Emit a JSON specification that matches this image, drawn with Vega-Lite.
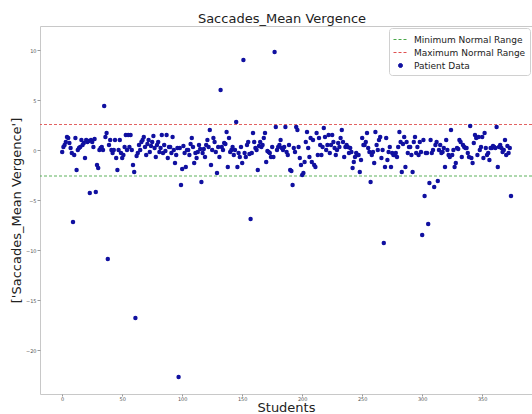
{
  "$schema": "https://vega.github.io/schema/vega-lite/v6.json",
  "autosize": {"type": "none"},
  "padding": {"left": 40, "top": 26, "right": 0, "bottom": 20},
  "width": 492,
  "height": 368,
  "background": "white",
  "title": {"text": "Saccades_Mean Vergence", "fontSize": 13, "fontWeight": "normal", "font": "DejaVu Sans", "baseline": "alphabetic", "offset": 5, "color": "#222222", "frame": "group", "dx": -4, "dy": 15},
  "config": {
    "font": "DejaVu Sans",
    "view": {"stroke": "#c8c8c8", "strokeWidth": 1},
    "axis": {"grid": false, "domain": false, "labelFontSize": 5, "labelColor": "#555555", "tickColor": "#999999", "tickSize": 3, "labelPadding": 1, "titleFontSize": 13, "titleFontWeight": "normal", "titleColor": "#222222", "titleFont": "DejaVu Sans"},
    "legend": {
      "orient": "top-right",
      "offset": 2,
      "padding": 4,
      "fillColor": "rgba(255,255,255,0.85)",
      "strokeColor": "#d0d0d0",
      "cornerRadius": 3,
      "labelFontSize": 9,
      "labelFont": "DejaVu Sans",
      "labelColor": "#222222",
      "labelOffset": 6,
      "rowPadding": 0,
      "symbolSize": 64
    }
  },
  "datasets": {
    "ranges": [
      {"series": "Minimum Normal Range", "limit": -2.6},
      {"series": "Maximum Normal Range", "limit": 2.55}
    ],
    "patients": [
      {"student":0,"vergence":-0.2},{"student":1,"vergence":0.3},{"student":2,"vergence":0.5},{"student":3,"vergence":0.8},{"student":4,"vergence":1.3},{"student":5,"vergence":1.2},{"student":6,"vergence":0.7},{"student":7,"vergence":0.2},{"student":8,"vergence":-0.3},{"student":9,"vergence":-7.2},
      {"student":10,"vergence":-0.5},{"student":11,"vergence":1.2},{"student":12,"vergence":-2.0},{"student":13,"vergence":0.0},{"student":14,"vergence":0.2},{"student":15,"vergence":0.3},{"student":16,"vergence":1.0},{"student":17,"vergence":0.5},{"student":18,"vergence":0.7},{"student":19,"vergence":-0.8},
      {"student":20,"vergence":1.0},{"student":21,"vergence":0.8},{"student":22,"vergence":0.9},{"student":23,"vergence":-4.3},{"student":24,"vergence":1.0},{"student":25,"vergence":0.8},{"student":26,"vergence":0.3},{"student":27,"vergence":1.1},{"student":28,"vergence":-4.2},{"student":29,"vergence":-1.5},
      {"student":30,"vergence":-1.8},{"student":31,"vergence":0.0},{"student":32,"vergence":0.2},{"student":33,"vergence":0.3},{"student":34,"vergence":0.0},{"student":35,"vergence":4.4},{"student":36,"vergence":1.3},{"student":37,"vergence":1.7},{"student":38,"vergence":-10.9},{"student":39,"vergence":0.5},
      {"student":40,"vergence":1.0},{"student":41,"vergence":0.0},{"student":42,"vergence":-0.3},{"student":43,"vergence":0.0},{"student":44,"vergence":1.0},{"student":45,"vergence":-0.8},{"student":46,"vergence":-2.0},{"student":47,"vergence":0.0},{"student":48,"vergence":1.0},{"student":49,"vergence":-0.3},
      {"student":50,"vergence":-0.8},{"student":51,"vergence":-0.5},{"student":52,"vergence":0.3},{"student":53,"vergence":1.5},{"student":54,"vergence":0.0},{"student":55,"vergence":1.5},{"student":56,"vergence":0.3},{"student":57,"vergence":1.5},{"student":58,"vergence":0.0},{"student":59,"vergence":-1.5},
      {"student":60,"vergence":-2.2},{"student":61,"vergence":-16.8},{"student":62,"vergence":-0.6},{"student":63,"vergence":-0.3},{"student":64,"vergence":0.5},{"student":65,"vergence":0.0},{"student":66,"vergence":0.8},{"student":67,"vergence":1.0},{"student":68,"vergence":1.3},{"student":69,"vergence":0.3},
      {"student":70,"vergence":-0.5},{"student":71,"vergence":0.6},{"student":72,"vergence":1.0},{"student":73,"vergence":-0.2},{"student":74,"vergence":0.4},{"student":75,"vergence":0.8},{"student":76,"vergence":1.4},{"student":77,"vergence":0.2},{"student":78,"vergence":-0.7},{"student":79,"vergence":0.5},
      {"student":80,"vergence":0.8},{"student":81,"vergence":-0.2},{"student":82,"vergence":0.2},{"student":83,"vergence":1.5},{"student":84,"vergence":-0.3},{"student":85,"vergence":0.5},{"student":86,"vergence":-0.1},{"student":87,"vergence":1.5},{"student":88,"vergence":-0.8},{"student":89,"vergence":0.3},
      {"student":90,"vergence":0.3},{"student":91,"vergence":-0.3},{"student":92,"vergence":1.3},{"student":93,"vergence":0.0},{"student":94,"vergence":-1.3},{"student":95,"vergence":-0.5},{"student":96,"vergence":0.2},{"student":97,"vergence":-22.7},{"student":98,"vergence":0.2},{"student":99,"vergence":-3.5},
      {"student":100,"vergence":-1.9},{"student":101,"vergence":0.4},{"student":102,"vergence":-0.3},{"student":103,"vergence":-1.7},{"student":104,"vergence":0.0},{"student":105,"vergence":0.0},{"student":106,"vergence":-0.5},{"student":107,"vergence":0.6},{"student":108,"vergence":1.2},{"student":109,"vergence":0.3},
      {"student":110,"vergence":-1.3},{"student":111,"vergence":-0.3},{"student":112,"vergence":-0.8},{"student":113,"vergence":-0.2},{"student":114,"vergence":0.5},{"student":115,"vergence":0.1},{"student":116,"vergence":-3.2},{"student":117,"vergence":-0.3},{"student":118,"vergence":0.1},{"student":119,"vergence":-0.7},
      {"student":120,"vergence":0.5},{"student":121,"vergence":1.0},{"student":122,"vergence":0.3},{"student":123,"vergence":2.0},{"student":124,"vergence":-1.5},{"student":125,"vergence":0.0},{"student":126,"vergence":1.2},{"student":127,"vergence":0.8},{"student":128,"vergence":-0.2},{"student":129,"vergence":-2.3},
      {"student":130,"vergence":0.3},{"student":131,"vergence":-0.7},{"student":132,"vergence":6.0},{"student":133,"vergence":0.3},{"student":134,"vergence":0.0},{"student":135,"vergence":0.7},{"student":136,"vergence":0.6},{"student":137,"vergence":1.8},{"student":138,"vergence":-1.7},{"student":139,"vergence":1.2},
      {"student":140,"vergence":-0.2},{"student":141,"vergence":0.0},{"student":142,"vergence":0.3},{"student":143,"vergence":-0.5},{"student":144,"vergence":0.0},{"student":145,"vergence":2.8},{"student":146,"vergence":-1.7},{"student":147,"vergence":-0.3},{"student":148,"vergence":-0.7},{"student":149,"vergence":0.3},
      {"student":150,"vergence":-1.3},{"student":151,"vergence":9.0},{"student":152,"vergence":-0.3},{"student":153,"vergence":-0.7},{"student":154,"vergence":0.5},{"student":155,"vergence":0.8},{"student":156,"vergence":-0.4},{"student":157,"vergence":-6.9},{"student":158,"vergence":-0.3},{"student":159,"vergence":1.7},
      {"student":160,"vergence":0.8},{"student":161,"vergence":0.2},{"student":162,"vergence":0.0},{"student":163,"vergence":-2.0},{"student":164,"vergence":0.4},{"student":165,"vergence":0.8},{"student":166,"vergence":0.3},{"student":167,"vergence":0.5},{"student":168,"vergence":1.2},{"student":169,"vergence":1.7},
      {"student":170,"vergence":-1.2},{"student":171,"vergence":-0.1},{"student":172,"vergence":-0.2},{"student":173,"vergence":-0.3},{"student":174,"vergence":-0.7},{"student":175,"vergence":0.3},{"student":176,"vergence":-0.7},{"student":177,"vergence":9.8},{"student":178,"vergence":2.3},{"student":179,"vergence":0.0},
      {"student":180,"vergence":0.3},{"student":181,"vergence":0.5},{"student":182,"vergence":1.0},{"student":183,"vergence":0.2},{"student":184,"vergence":0.0},{"student":185,"vergence":0.3},{"student":186,"vergence":2.3},{"student":187,"vergence":-0.2},{"student":188,"vergence":-0.5},{"student":189,"vergence":0.5},
      {"student":190,"vergence":-2.0},{"student":191,"vergence":-2.1},{"student":192,"vergence":-3.5},{"student":193,"vergence":0.2},{"student":194,"vergence":-0.2},{"student":195,"vergence":2.3},{"student":196,"vergence":2.0},{"student":197,"vergence":0.3},{"student":198,"vergence":-0.8},{"student":199,"vergence":-1.5},
      {"student":200,"vergence":-2.5},{"student":201,"vergence":-2.3},{"student":202,"vergence":-1.2},{"student":203,"vergence":0.8},{"student":204,"vergence":1.8},{"student":205,"vergence":0.2},{"student":206,"vergence":-0.7},{"student":207,"vergence":1.2},{"student":208,"vergence":-1.2},{"student":209,"vergence":1.0},
      {"student":210,"vergence":-1.5},{"student":211,"vergence":-1.7},{"student":212,"vergence":1.7},{"student":213,"vergence":-0.5},{"student":214,"vergence":1.2},{"student":215,"vergence":0.5},{"student":216,"vergence":-0.5},{"student":217,"vergence":0.3},{"student":218,"vergence":2.2},{"student":219,"vergence":1.3},
      {"student":220,"vergence":0.0},{"student":221,"vergence":0.5},{"student":222,"vergence":1.5},{"student":223,"vergence":-0.3},{"student":224,"vergence":0.5},{"student":225,"vergence":1.5},{"student":226,"vergence":0.8},{"student":227,"vergence":0.2},{"student":228,"vergence":-0.5},{"student":229,"vergence":0.0},
      {"student":230,"vergence":0.7},{"student":231,"vergence":0.3},{"student":232,"vergence":1.2},{"student":233,"vergence":2.0},{"student":234,"vergence":0.8},{"student":235,"vergence":-0.7},{"student":236,"vergence":0.3},{"student":237,"vergence":0.5},{"student":238,"vergence":0.3},{"student":239,"vergence":-0.3},
      {"student":240,"vergence":0.2},{"student":241,"vergence":-0.2},{"student":242,"vergence":-1.8},{"student":243,"vergence":-1.2},{"student":244,"vergence":-0.7},{"student":245,"vergence":-0.3},{"student":246,"vergence":-0.5},{"student":247,"vergence":-0.5},{"student":248,"vergence":-2.2},{"student":249,"vergence":-1.0},
      {"student":250,"vergence":1.2},{"student":251,"vergence":0.5},{"student":252,"vergence":0.5},{"student":253,"vergence":0.8},{"student":254,"vergence":1.7},{"student":255,"vergence":0.2},{"student":256,"vergence":-0.2},{"student":257,"vergence":-3.2},{"student":258,"vergence":-0.5},{"student":259,"vergence":-0.2},
      {"student":260,"vergence":-1.3},{"student":261,"vergence":1.8},{"student":262,"vergence":0.5},{"student":263,"vergence":0.0},{"student":264,"vergence":1.0},{"student":265,"vergence":1.3},{"student":266,"vergence":-0.8},{"student":267,"vergence":0.0},{"student":268,"vergence":-9.3},{"student":269,"vergence":-1.7},
      {"student":270,"vergence":1.2},{"student":271,"vergence":-1.0},{"student":272,"vergence":-0.2},{"student":273,"vergence":0.3},{"student":274,"vergence":-1.7},{"student":275,"vergence":-0.3},{"student":276,"vergence":-0.5},{"student":277,"vergence":-0.5},{"student":278,"vergence":-0.3},{"student":279,"vergence":-0.7},
      {"student":280,"vergence":0.3},{"student":281,"vergence":1.8},{"student":282,"vergence":0.8},{"student":283,"vergence":-2.2},{"student":284,"vergence":0.6},{"student":285,"vergence":1.3},{"student":286,"vergence":-1.7},{"student":287,"vergence":0.8},{"student":288,"vergence":-0.3},{"student":289,"vergence":0.3},
      {"student":290,"vergence":0.3},{"student":291,"vergence":-0.5},{"student":292,"vergence":-2.2},{"student":293,"vergence":0.8},{"student":294,"vergence":1.3},{"student":295,"vergence":-0.3},{"student":296,"vergence":0.3},{"student":297,"vergence":-0.5},{"student":298,"vergence":0.8},{"student":299,"vergence":-0.2},
      {"student":300,"vergence":-8.5},{"student":301,"vergence":1.0},{"student":302,"vergence":-4.6},{"student":303,"vergence":-0.3},{"student":304,"vergence":-0.3},{"student":305,"vergence":-7.4},{"student":306,"vergence":-3.3},{"student":307,"vergence":1.0},{"student":308,"vergence":-0.3},{"student":309,"vergence":0.0},
      {"student":310,"vergence":-3.7},{"student":311,"vergence":0.5},{"student":312,"vergence":0.8},{"student":313,"vergence":-3.1},{"student":314,"vergence":0.0},{"student":315,"vergence":0.5},{"student":316,"vergence":-0.3},{"student":317,"vergence":-0.2},{"student":318,"vergence":0.2},{"student":319,"vergence":-1.7},
      {"student":320,"vergence":1.0},{"student":321,"vergence":0.0},{"student":322,"vergence":-0.5},{"student":323,"vergence":-0.7},{"student":324,"vergence":2.0},{"student":325,"vergence":-0.5},{"student":326,"vergence":0.0},{"student":327,"vergence":-1.7},{"student":328,"vergence":-1.3},{"student":329,"vergence":0.2},
      {"student":330,"vergence":0.1},{"student":331,"vergence":1.0},{"student":332,"vergence":0.8},{"student":333,"vergence":-0.7},{"student":334,"vergence":0.5},{"student":335,"vergence":0.3},{"student":336,"vergence":0.2},{"student":337,"vergence":0.2},{"student":338,"vergence":-0.3},{"student":339,"vergence":-0.7},
      {"student":340,"vergence":2.4},{"student":341,"vergence":-0.8},{"student":342,"vergence":-1.3},{"student":343,"vergence":0.7},{"student":344,"vergence":1.5},{"student":345,"vergence":1.2},{"student":346,"vergence":-0.5},{"student":347,"vergence":1.3},{"student":348,"vergence":0.0},{"student":349,"vergence":0.3},
      {"student":350,"vergence":1.3},{"student":351,"vergence":-0.8},{"student":352,"vergence":1.7},{"student":353,"vergence":0.2},{"student":354,"vergence":-0.5},{"student":355,"vergence":-0.3},{"student":356,"vergence":-1.0},{"student":357,"vergence":0.2},{"student":358,"vergence":0.2},{"student":359,"vergence":0.4},
      {"student":360,"vergence":0.3},{"student":361,"vergence":0.2},{"student":362,"vergence":2.3},{"student":363,"vergence":-1.7},{"student":364,"vergence":0.3},{"student":365,"vergence":0.5},{"student":366,"vergence":0.2},{"student":367,"vergence":-0.2},{"student":368,"vergence":0.0},{"student":369,"vergence":1.0},
      {"student":370,"vergence":-0.5},{"student":371,"vergence":0.4},{"student":372,"vergence":-0.3},{"student":373,"vergence":0.2},{"student":374,"vergence":-4.6}
    ]
  },
  "layer": [
    {
      "data": {"name": "ranges"},
      "mark": {"type": "rule", "strokeWidth": 0.9, "strokeDash": [3, 2]},
      "encoding": {
        "y": {"field": "limit", "type": "quantitative", "scale": {"domain": [-24.4, 12.4], "nice": false, "zero": false}},
        "color": {
          "field": "series", "type": "nominal",
          "scale": {"domain": ["Minimum Normal Range", "Maximum Normal Range", "Patient Data"], "range": ["#4aa84a", "#e05050", "#1010a0"]},
          "legend": {
            "title": null,
            "encode": {
              "symbols": {
                "update": {
                  "shape": {"signal": "datum.value === 'Patient Data' ? 'circle' : 'stroke'"},
                  "size": {"signal": "datum.value === 'Patient Data' ? 16 : 196"},
                  "stroke": {"scale": "color", "field": "value"},
                  "fill": {"signal": "datum.value === 'Patient Data' ? scale('color', datum.value) : 'transparent'"},
                  "strokeDash": {"signal": "datum.value === 'Patient Data' ? [] : [3, 2]"},
                  "strokeWidth": {"value": 1},
                  "opacity": {"value": 1}
                }
              }
            }
          }
        }
      }
    },
    {
      "data": {"name": "patients"},
      "mark": {"type": "point", "filled": true, "size": 20, "opacity": 1},
      "encoding": {
        "x": {"field": "student", "type": "quantitative", "title": "Students",
              "scale": {"domain": [-18.5, 391.5], "nice": false, "zero": false},
              "axis": {"values": [0, 50, 100, 150, 200, 250, 300, 350], "titleY": 17.5, "titleBaseline": "alphabetic", "labelPadding": 0, "tickSize": 2}},
        "y": {"field": "vergence", "type": "quantitative", "title": "['Saccades_Mean Vergence']",
              "scale": {"domain": [-24.4, 12.4], "nice": false, "zero": false},
              "axis": {"values": [-20, -15, -10, -5, 0, 5, 10], "titleX": -24, "titleY": 184, "titleAngle": 270, "titleBaseline": "middle", "titleAlign": "center"}},
        "color": {
          "datum": "Patient Data",
          "type": "nominal",
          "legend": {
            "title": null,
            "encode": {
              "symbols": {
                "update": {
                  "shape": {"signal": "datum.value === 'Patient Data' ? 'circle' : 'stroke'"},
                  "size": {"signal": "datum.value === 'Patient Data' ? 16 : 196"},
                  "stroke": {"scale": "color", "field": "value"},
                  "fill": {"signal": "datum.value === 'Patient Data' ? scale('color', datum.value) : 'transparent'"},
                  "strokeDash": {"signal": "datum.value === 'Patient Data' ? [] : [3, 2]"},
                  "strokeWidth": {"value": 1},
                  "opacity": {"value": 1}
                }
              }
            }
          }
        }
      }
    }
  ]
}
